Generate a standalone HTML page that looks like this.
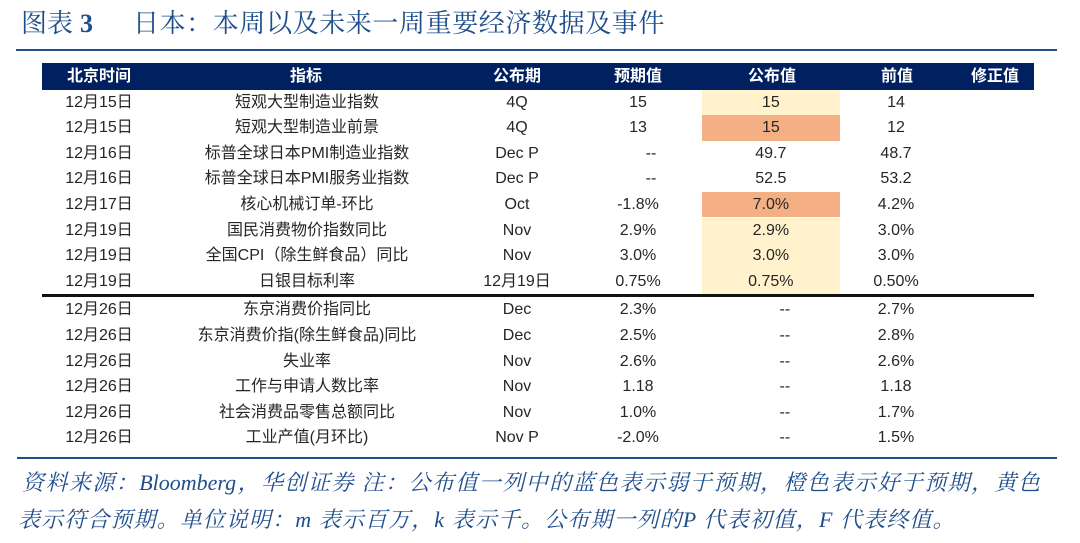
<!DOCTYPE html>
<html><head><meta charset="utf-8">
<style>
html,body{margin:0;padding:0;background:#fff;}
body{width:1080px;height:543px;position:relative;overflow:hidden;}
.title{position:absolute;top:9px;height:30px;line-height:30px;font-family:"Liberation Serif","Noto Serif CJK SC",serif;font-size:26px;color:#1f4e8c;white-space:nowrap;}
.hline{position:absolute;background:#1f4e8c;}
.hdr{position:absolute;left:42px;top:63px;width:992px;height:27px;background:#002060;}
.h{position:absolute;top:63px;height:27px;line-height:27px;color:#fff;font-weight:bold;font-size:16px;text-align:center;font-family:"Liberation Sans","Noto Sans CJK SC",sans-serif;white-space:nowrap;}
.c{position:absolute;height:25.6px;line-height:25.6px;font-size:16px;color:#262626;text-align:center;font-family:"Liberation Sans","Noto Sans CJK SC",sans-serif;white-space:nowrap;}
.c1{left:19px;width:160px;}
.c2{left:157px;width:300px;}
.c3{left:447px;width:140px;}
.c4{left:578px;width:120px;}
.c5{left:701.7px;width:138.3px;}
.c6{left:836px;width:120px;}
.y{background:#fff2cc;}
.o{background:#f4b084;}
.d4{position:relative;left:13px;}
.d5{position:relative;left:14px;}
.foot{position:absolute;font-family:"Liberation Serif","Noto Serif CJK SC",serif;font-style:italic;font-size:22px;color:#1f4e8c;white-space:nowrap;height:30px;line-height:30px;}
</style></head>
<body>
<div class="title" style="left:21px;">图表</div>
<div class="title" style="left:80px;font-weight:bold;">3</div>
<div class="title" style="left:133px;letter-spacing:0.6px;">日本：本周以及未来一周重要经济数据及事件</div>
<div class="hline" style="left:16px;top:49px;width:1041px;height:2px;"></div>

<div class="hdr"></div>
<div class="h" style="left:39px;width:120px;">北京时间</div>
<div class="h" style="left:246px;width:120px;">指标</div>
<div class="h" style="left:457px;width:120px;">公布期</div>
<div class="h" style="left:578px;width:120px;">预期值</div>
<div class="h" style="left:712px;width:120px;">公布值</div>
<div class="h" style="left:837px;width:120px;">前值</div>
<div class="h" style="left:935px;width:120px;">修正值</div>

<!-- row 1 -->
<div class="c c1" style="top:89.5px">12月15日</div>
<div class="c c2" style="top:89.5px">短观大型制造业指数</div>
<div class="c c3" style="top:89.5px">4Q</div>
<div class="c c4" style="top:89.5px">15</div>
<div class="c c5 y" style="top:89.5px">15</div>
<div class="c c6" style="top:89.5px">14</div>
<!-- row 2 -->
<div class="c c1" style="top:115.1px">12月15日</div>
<div class="c c2" style="top:115.1px">短观大型制造业前景</div>
<div class="c c3" style="top:115.1px">4Q</div>
<div class="c c4" style="top:115.1px">13</div>
<div class="c c5 o" style="top:115.1px">15</div>
<div class="c c6" style="top:115.1px">12</div>
<!-- row 3 -->
<div class="c c1" style="top:140.7px">12月16日</div>
<div class="c c2" style="top:140.7px">标普全球日本PMI制造业指数</div>
<div class="c c3" style="top:140.7px">Dec P</div>
<div class="c c4" style="top:140.7px"><span class="d4">--</span></div>
<div class="c c5" style="top:140.7px">49.7</div>
<div class="c c6" style="top:140.7px">48.7</div>
<!-- row 4 -->
<div class="c c1" style="top:166.3px">12月16日</div>
<div class="c c2" style="top:166.3px">标普全球日本PMI服务业指数</div>
<div class="c c3" style="top:166.3px">Dec P</div>
<div class="c c4" style="top:166.3px"><span class="d4">--</span></div>
<div class="c c5" style="top:166.3px">52.5</div>
<div class="c c6" style="top:166.3px">53.2</div>
<!-- row 5 -->
<div class="c c1" style="top:191.9px">12月17日</div>
<div class="c c2" style="top:191.9px">核心机械订单-环比</div>
<div class="c c3" style="top:191.9px">Oct</div>
<div class="c c4" style="top:191.9px">-1.8%</div>
<div class="c c5 o" style="top:191.9px">7.0%</div>
<div class="c c6" style="top:191.9px">4.2%</div>
<!-- row 6 -->
<div class="c c1" style="top:217.5px">12月19日</div>
<div class="c c2" style="top:217.5px">国民消费物价指数同比</div>
<div class="c c3" style="top:217.5px">Nov</div>
<div class="c c4" style="top:217.5px">2.9%</div>
<div class="c c5 y" style="top:217.5px">2.9%</div>
<div class="c c6" style="top:217.5px">3.0%</div>
<!-- row 7 -->
<div class="c c1" style="top:243.1px">12月19日</div>
<div class="c c2" style="top:243.1px">全国CPI（除生鲜食品）同比</div>
<div class="c c3" style="top:243.1px">Nov</div>
<div class="c c4" style="top:243.1px">3.0%</div>
<div class="c c5 y" style="top:243.1px">3.0%</div>
<div class="c c6" style="top:243.1px">3.0%</div>
<!-- row 8 -->
<div class="c c1" style="top:268.7px">12月19日</div>
<div class="c c2" style="top:268.7px">日银目标利率</div>
<div class="c c3" style="top:268.7px">12月19日</div>
<div class="c c4" style="top:268.7px">0.75%</div>
<div class="c c5 y" style="top:268.7px">0.75%</div>
<div class="c c6" style="top:268.7px">0.50%</div>

<div style="position:absolute;left:42px;top:294.3px;width:992px;height:3px;background:#111;"></div>

<!-- row 9 -->
<div class="c c1" style="top:297.3px">12月26日</div>
<div class="c c2" style="top:297.3px">东京消费价指同比</div>
<div class="c c3" style="top:297.3px">Dec</div>
<div class="c c4" style="top:297.3px">2.3%</div>
<div class="c c5" style="top:297.3px"><span class="d5">--</span></div>
<div class="c c6" style="top:297.3px">2.7%</div>
<!-- row 10 -->
<div class="c c1" style="top:322.9px">12月26日</div>
<div class="c c2" style="top:322.9px">东京消费价指(除生鲜食品)同比</div>
<div class="c c3" style="top:322.9px">Dec</div>
<div class="c c4" style="top:322.9px">2.5%</div>
<div class="c c5" style="top:322.9px"><span class="d5">--</span></div>
<div class="c c6" style="top:322.9px">2.8%</div>
<!-- row 11 -->
<div class="c c1" style="top:348.5px">12月26日</div>
<div class="c c2" style="top:348.5px">失业率</div>
<div class="c c3" style="top:348.5px">Nov</div>
<div class="c c4" style="top:348.5px">2.6%</div>
<div class="c c5" style="top:348.5px"><span class="d5">--</span></div>
<div class="c c6" style="top:348.5px">2.6%</div>
<!-- row 12 -->
<div class="c c1" style="top:374.1px">12月26日</div>
<div class="c c2" style="top:374.1px">工作与申请人数比率</div>
<div class="c c3" style="top:374.1px">Nov</div>
<div class="c c4" style="top:374.1px">1.18</div>
<div class="c c5" style="top:374.1px"><span class="d5">--</span></div>
<div class="c c6" style="top:374.1px">1.18</div>
<!-- row 13 -->
<div class="c c1" style="top:399.7px">12月26日</div>
<div class="c c2" style="top:399.7px">社会消费品零售总额同比</div>
<div class="c c3" style="top:399.7px">Nov</div>
<div class="c c4" style="top:399.7px">1.0%</div>
<div class="c c5" style="top:399.7px"><span class="d5">--</span></div>
<div class="c c6" style="top:399.7px">1.7%</div>
<!-- row 14 -->
<div class="c c1" style="top:425.3px">12月26日</div>
<div class="c c2" style="top:425.3px">工业产值(月环比)</div>
<div class="c c3" style="top:425.3px">Nov P</div>
<div class="c c4" style="top:425.3px">-2.0%</div>
<div class="c c5" style="top:425.3px"><span class="d5">--</span></div>
<div class="c c6" style="top:425.3px">1.5%</div>

<div class="hline" style="left:17px;top:457px;width:1040px;height:2px;"></div>

<div class="foot" style="left:22px;top:468px;width:1018px;text-align:justify;text-align-last:justify;">资料来源：Bloomberg，华创证券 注：公布值一列中的蓝色表示弱于预期，橙色表示好于预期，黄色</div>
<div class="foot" style="left:18px;top:505px;letter-spacing:1.1px;">表示符合预期。单位说明：m 表示百万，k 表示千。公布期一列的P 代表初值，F 代表终值。</div>
</body></html>
